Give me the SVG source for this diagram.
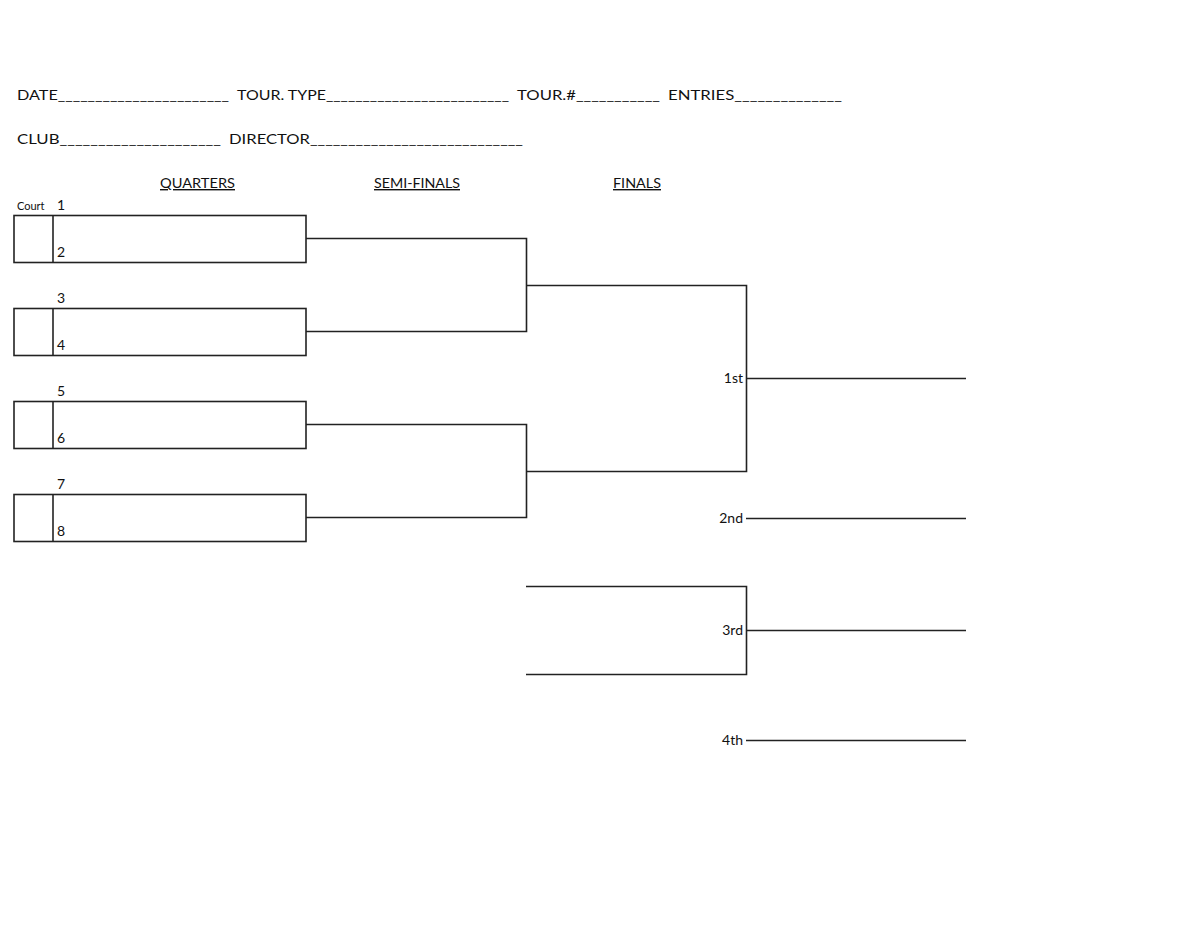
<svg xmlns="http://www.w3.org/2000/svg" width="1200" height="927" viewBox="0 0 1200 927">
<style>
text{font-family:Lato,"Open Sans","Liberation Sans",sans-serif;font-size:14px;fill:#111}
.s{font-size:11px}
.u{text-decoration:underline}
.b{fill:none;stroke:#222;stroke-width:1.6}
.c{fill:none;stroke:#222;stroke-width:1.6}
</style>
<rect width="1200" height="927" fill="#fff"/>
<g id="header">
<text x="17" y="100" textLength="212" lengthAdjust="spacingAndGlyphs">DATE_______________________</text>
<text x="237" y="100" textLength="272" lengthAdjust="spacingAndGlyphs">TOUR. TYPE_________________________</text>
<text x="517" y="100" textLength="143" lengthAdjust="spacingAndGlyphs">TOUR.#___________</text>
<text x="668" y="100" textLength="174" lengthAdjust="spacingAndGlyphs">ENTRIES______________</text>
<text x="17" y="144" textLength="204" lengthAdjust="spacingAndGlyphs">CLUB_____________________</text>
<text x="229" y="144" textLength="294" lengthAdjust="spacingAndGlyphs">DIRECTOR____________________________</text>
<text class="u" x="160" y="188" textLength="75" lengthAdjust="spacingAndGlyphs">QUARTERS</text>
<text class="u" x="374" y="188" textLength="86" lengthAdjust="spacingAndGlyphs">SEMI-FINALS</text>
<text class="u" x="613" y="188" textLength="48" lengthAdjust="spacingAndGlyphs">FINALS</text>
<text class="s" x="17" y="210">Court</text>
</g>
<g id="q1"><rect class="b" x="14" y="215.5" width="292" height="47"/><line class="b" x1="53" y1="215.5" x2="53" y2="262.5"/><text x="57" y="210">1</text><text x="57" y="257">2</text></g>
<g id="q2"><rect class="b" x="14" y="308.5" width="292" height="47"/><line class="b" x1="53" y1="308.5" x2="53" y2="355.5"/><text x="57" y="303">3</text><text x="57" y="350">4</text></g>
<g id="q3"><rect class="b" x="14" y="401.5" width="292" height="47"/><line class="b" x1="53" y1="401.5" x2="53" y2="448.5"/><text x="57" y="396">5</text><text x="57" y="443">6</text></g>
<g id="q4"><rect class="b" x="14" y="494.5" width="292" height="47"/><line class="b" x1="53" y1="494.5" x2="53" y2="541.5"/><text x="57" y="489">7</text><text x="57" y="536">8</text></g>
<g id="labels">
<text x="743" y="383" text-anchor="end">1st</text>
<text x="743" y="523" text-anchor="end">2nd</text>
<text x="743" y="635" text-anchor="end">3rd</text>
<text x="743" y="745" text-anchor="end">4th</text>
</g>
<g id="connectors">
<polyline class="c" points="306,238.5 526.5,238.5 526.5,331.5 306,331.5"/>
<polyline class="c" points="306,424.5 526.5,424.5 526.5,517.5 306,517.5"/>
<polyline class="c" points="526.5,285.5 746.5,285.5 746.5,471.5 526.5,471.5"/>
<line class="c" x1="746.5" y1="378.5" x2="966" y2="378.5"/>
<line class="c" x1="746" y1="518.5" x2="966" y2="518.5"/>
<polyline class="c" points="526,586.5 746.5,586.5 746.5,674.5 526,674.5"/>
<line class="c" x1="746.5" y1="630.5" x2="966" y2="630.5"/>
<line class="c" x1="746" y1="740.5" x2="966" y2="740.5"/>
</g>
</svg>
